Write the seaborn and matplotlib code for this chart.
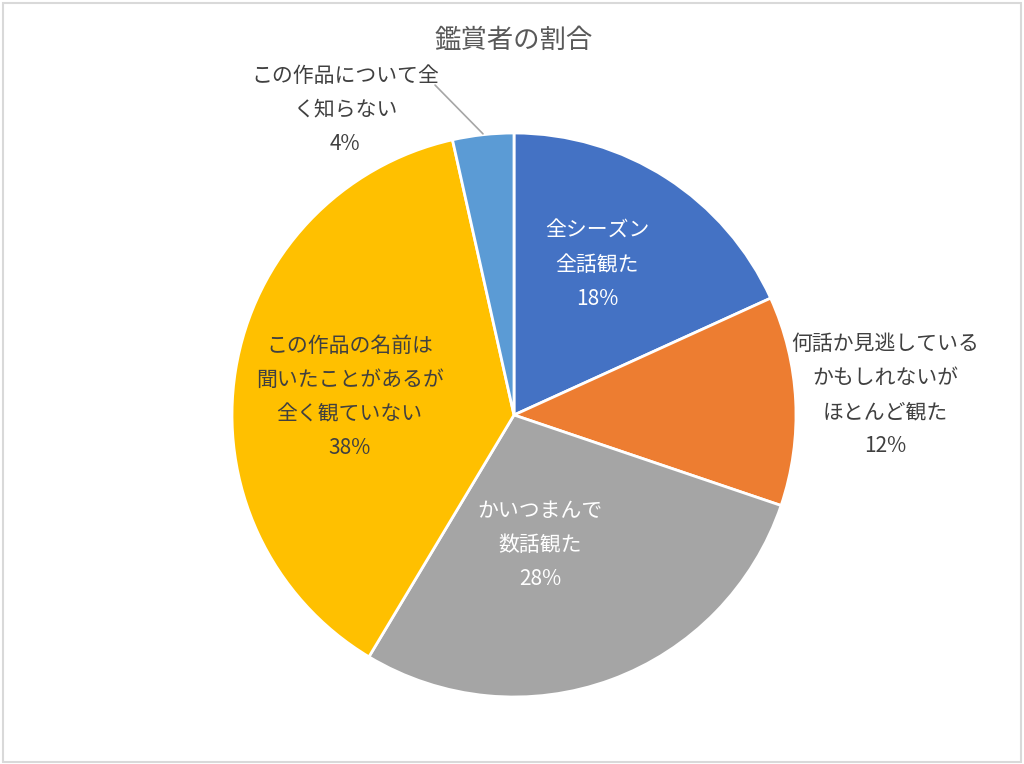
import matplotlib
matplotlib.use("Agg")
import matplotlib.pyplot as plt
import seaborn as sns

categories = ["全シーズン\n全話観た", "何話か見逃している\nかもしれないが\nほとんど観た",
              "かいつまんで\n数話観た", "この作品の名前は\n聞いたことがあるが\n全く観ていない",
              "この作品について全\nく知らない"]
values = [18.2, 12.0, 28.4, 37.9, 3.5]
pct_labels = ["18%", "12%", "28%", "38%", "4%"]
colors = ["#4472C4", "#ED7D31", "#A5A5A5", "#FFC000", "#5B9BD5"]
label_pos = [(0.294, 0.532), (1.316, 0.071), (0.092, -0.461), (-0.583, 0.064), (-0.599, 1.082)]
label_colors = ["white", "#404040", "white", "#404040", "#404040"]

sns.set_theme(style="white")
plt.rcParams['font.family'] = ['Noto Sans CJK JP', 'DejaVu Sans']

fig = plt.figure(figsize=(10.24, 7.64), dpi=100)
fig.patch.set_facecolor("white")
# border
fig.add_artist(plt.Rectangle((3/1024, 2/764), 1018/1024, 759/764, transform=fig.transFigure,
                             fill=False, edgecolor="#D9D9D9", linewidth=1.5))

R = 282
side = 620
cx, cy = 514, 415
ax = fig.add_axes([(cx - side/2)/1024, (764 - cy - side/2)/764, side/1024, side/764])
lim = side/2/R
ax.pie(values, colors=colors, startangle=90, counterclock=False, radius=1,
       wedgeprops=dict(edgecolor="white", linewidth=2))
ax.set_xlim(-lim, lim)
ax.set_ylim(-lim, lim)
ax.set_aspect("equal")
ax.axis("off")

for cat, pct, (x, y), c in zip(categories, pct_labels, label_pos, label_colors):
    ax.text(x, y, cat + "\n" + pct, ha="center", va="center", fontsize=15,
            color=c, linespacing=1.72, clip_on=False)

# leader line for small slice
ax.plot([-0.28, -0.11], [1.17, 0.997], color="#A6A6A6", linewidth=1.2, clip_on=False)

fig.text(cx/1024, 1 - 40/764, "鑑賞者の割合", ha="center", va="center", fontsize=19, color="#595959")

fig.savefig("out.png", dpi=100)
